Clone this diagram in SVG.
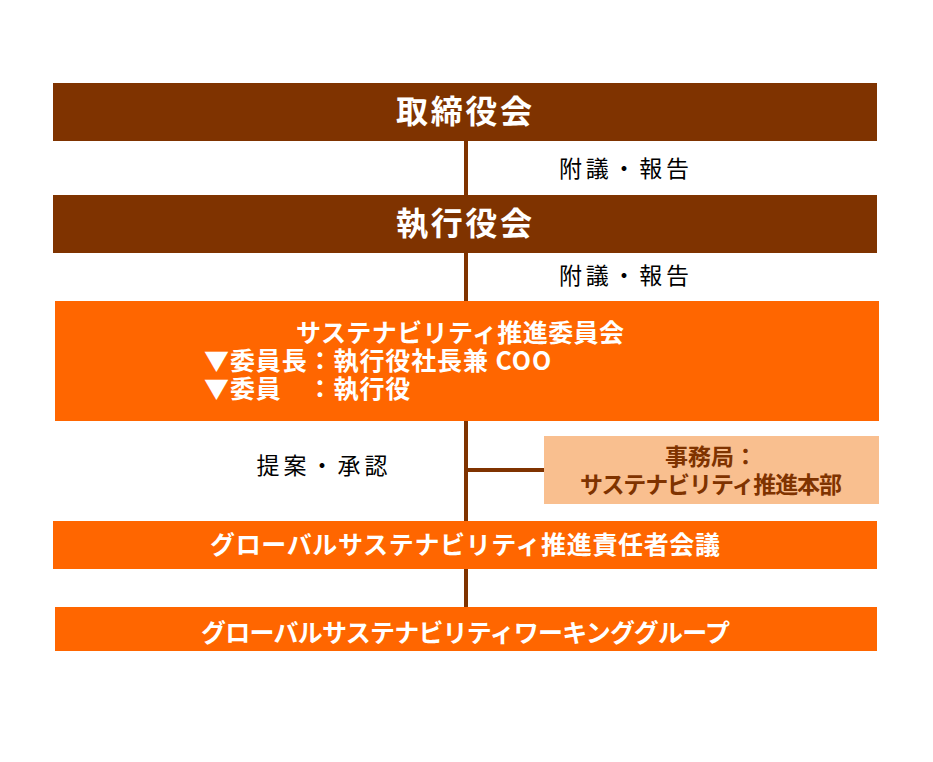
<svg xmlns="http://www.w3.org/2000/svg" width="933" height="762" viewBox="0 0 933 762">
<style>
.dark{fill:#7F3300}
.org{fill:#FF6600}
.lite{fill:#F9BF8F}
.t{font-family:"Noto Sans CJK JP","Noto Sans",sans-serif;font-weight:bold;fill:#FFFFFF}
.tb{font-family:"Noto Sans CJK JP","Noto Sans",sans-serif;font-weight:bold;fill:#7F3300}
.lbl{font-family:"Noto Sans CJK JP","Noto Sans",sans-serif;font-weight:normal;fill:#000000;font-size:23px}
.c{stroke:#7F3300;stroke-width:4;fill:none}
</style>
<rect width="933" height="762" fill="#FFFFFF"/>
<g id="connectors">
<line class="c" x1="466" y1="140" x2="466" y2="607"/>
<line class="c" x1="466" y1="470" x2="545" y2="470"/>
</g>
<g id="board">
<rect class="dark" x="53" y="83" width="824" height="58"/>
<text class="t" x="464" y="123" font-size="32" text-anchor="middle" textLength="136">取締役会</text>
</g>
<g id="label1">
<text class="lbl" x="624" y="177" text-anchor="middle" textLength="130">附議・報告</text>
</g>
<g id="exec">
<rect class="dark" x="53" y="195" width="824" height="58"/>
<text class="t" x="464" y="235" font-size="32" text-anchor="middle" textLength="136">執行役会</text>
</g>
<g id="label2">
<text class="lbl" x="624" y="284" text-anchor="middle" textLength="130">附議・報告</text>
</g>
<g id="committee">
<rect class="org" x="55" y="301" width="824" height="120"/>
<text class="t" x="460" y="342" font-size="25" text-anchor="middle" textLength="328">サステナビリティ推進委員会</text>
<text class="t" x="204" y="370" font-size="25" letter-spacing="0.9" xml:space="preserve">▼委員長：執行役社長兼 COO</text>
<text class="t" x="204" y="398" font-size="25" letter-spacing="0.9" xml:space="preserve">▼委員　：執行役</text>
</g>
<g id="label3">
<text class="lbl" x="322" y="474" text-anchor="middle" textLength="131">提案・承認</text>
</g>
<g id="secretariat">
<rect class="lite" x="544" y="436" width="335" height="68"/>
<text class="tb" x="711" y="465" font-size="23" text-anchor="middle">事務局：</text>
<text class="tb" x="711" y="493" font-size="23" text-anchor="middle" textLength="262">サステナビリティ推進本部</text>
</g>
<g id="global-meeting">
<rect class="org" x="53" y="521" width="824" height="48"/>
<text class="t" x="465" y="554" font-size="25" text-anchor="middle" textLength="510">グローバルサステナビリティ推進責任者会議</text>
</g>
<g id="global-wg">
<rect class="org" x="55" y="607" width="822" height="44"/>
<text class="t" x="465.5" y="642" font-size="25" text-anchor="middle" textLength="529">グローバルサステナビリティワーキンググループ</text>
</g>
</svg>
